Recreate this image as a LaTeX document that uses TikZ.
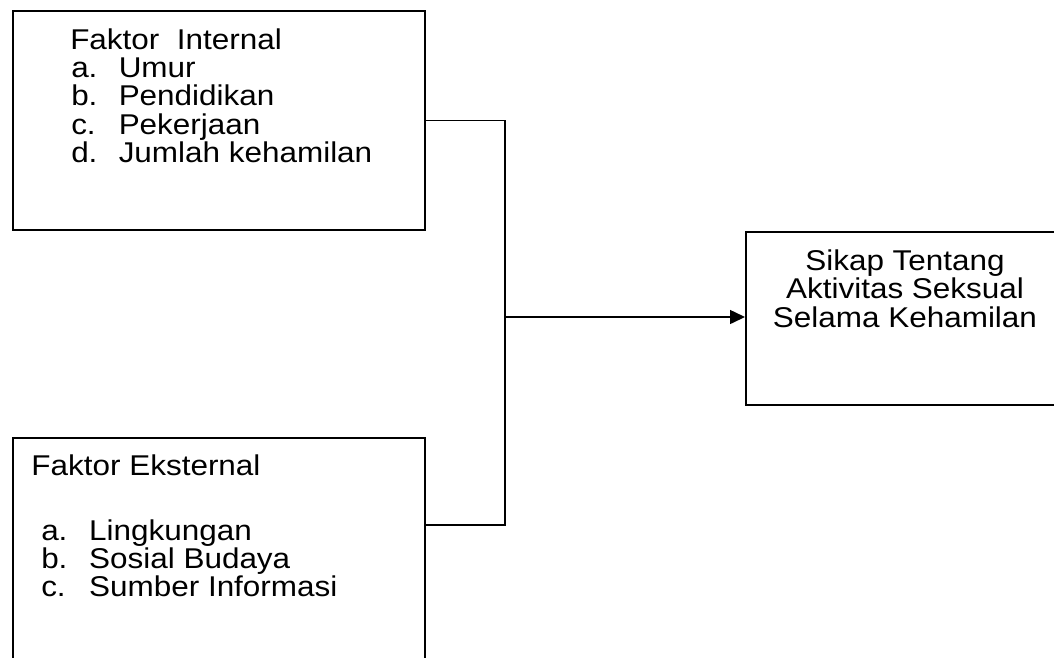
\documentclass[tikz,border=0pt]{standalone}
\usepackage{fontspec}
\setmainfont[FakeStretch=1.1]{Liberation Sans}
\usetikzlibrary{arrows.meta}

\begin{document}
\begin{tikzpicture}
[x=1pt,y=-1pt,line width=1.5pt,%
  every node/.style={inner sep=0pt},%
  box/.style={draw,rectangle,anchor=north west},%
  txt/.style={anchor=base west},%
  arrow/.style={-{Triangle[length=15pt,width=14pt]}}]
\fontsize{28.6}{28.3}\selectfont
\path[use as bounding box,clip] (0,0) rectangle (1054,657);
% boxes
\node[box,minimum width=412pt,minimum height=219pt] (internal) at (12,10) {};
\node[box,minimum width=412pt,minimum height=260pt] (external) at (12,437) {};
\node[box,minimum width=320pt,minimum height=173pt] (sikap) at (745,231) {};
% texts
\node[txt] (int-head) at (69.5,49.3) {Faktor\ \ Internal};
\foreach \lbl/\itm [count=\i] in {a./Umur,b./Pendidikan,c./Pekerjaan,d./Jumlah kehamilan}
{
  \node[txt] (int-lbl-\i) at (70.5,49.3+28.3*\i) {\lbl};
  \node[txt] (int-itm-\i) at (118,49.3+28.3*\i) {\itm};
}
\node[txt] (ext-head) at (30.7,475.7) {Faktor Eksternal};
\foreach \lbl/\itm [count=\i] in {a./Lingkungan,b./Sosial Budaya,c./Sumber Informasi}
{
  \node[txt] (ext-lbl-\i) at (40.5,511.7+28.3*\i) {\lbl};
  \node[txt] (ext-itm-\i) at (88.4,511.7+28.3*\i) {\itm};
}
\foreach \line [count=\i] in {Sikap Tentang,Aktivitas Seksual,Selama Kehamilan}
  \node[anchor=base] (sikap-\i) at (905,241.5+28.5*\i) {\line};
% connectors
\coordinate (hub) at (505,317);
\draw (internal.east) -| (hub);
\draw ([yshift=-88pt]external.north east) -| (hub);
\draw[arrow] (hub) -- (hub -| sikap.west);
\end{tikzpicture}
\end{document}
